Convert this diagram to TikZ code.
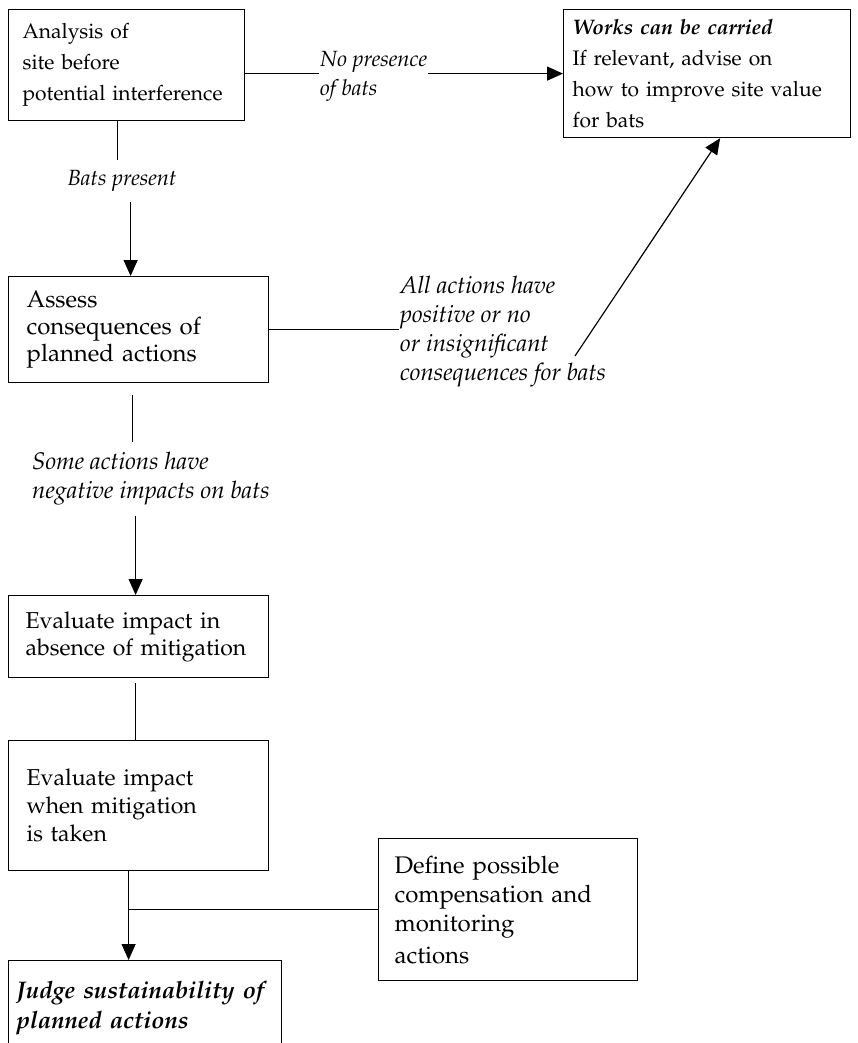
\documentclass[tikz,border=0pt]{standalone}
\usepackage[T1]{fontenc}
\usepackage{mathpazo}
\usepackage{tikz}
\usetikzlibrary{arrows.meta}
\hyphenpenalty=10000
\tikzset{c-box/.style={rectangle, anchor=north west, align=left, inner xsep=15pt, draw=black, line width=1.2pt, fill=white, font=\fontsize{21}{31}\selectfont},
c-label/.style={anchor=west, align=left, inner xsep=1pt, inner ysep=10pt, font=\fontsize{22}{29}\selectfont\itshape},
line/.style={line width=1.2pt},
arrow/.style={line width=1.2pt,-{Triangle[length=16pt,width=14pt]}}}

\begin{document}
\begin{tikzpicture}[x=1pt, y=-1pt]
\useasboundingbox (0,0) rectangle (857,1043);
\node (nAnalysis) [c-box, inner xsep=14pt, text width=208pt, minimum height=111pt] at (8,9) {Analysis of\\
site before\\
potential interference};
\node (nWorks) [c-box, inner xsep=9pt, text width=269pt, minimum height=128pt] at (563,9) {\textbf{\textit{Works can be carried}}\\
If relevant, advise on\\
how to improve site value\\
for bats};
\node (nAssess) [c-box, inner xsep=18pt, text width=224pt, minimum height=106pt, font=\fontsize{24}{27}\selectfont] at (8,276) {Assess\\
consequences of\\
planned actions};
\node (nAbsence) [c-box, inner xsep=17pt, text width=226pt, minimum height=82pt, font=\fontsize{23}{27}\selectfont] at (8,595) {Evaluate impact in\\
absence of mitigation};
\node (nWhen) [c-box, inner xsep=18pt, text width=224pt, minimum height=130pt, font=\fontsize{23}{28}\selectfont] at (8,740) {Evaluate impact\\
when mitigation\\
is taken};
\node (nJudge) [c-box, inner xsep=8pt, text width=257pt, minimum height=96pt, font=\fontsize{24}{30}\selectfont\bfseries\itshape] at (8,960) {Judge sustainability of\\
planned actions};
\node (nDefine) [c-box, inner xsep=16pt, text width=227pt, minimum height=142pt, font=\fontsize{24}{29}\selectfont] at (378,838) {Define possible\\
compensation and\\
monitoring\\[3pt]
actions};
\node (lblNoBats) [c-label] at (319,76) {No presence\\
of bats};
\node (lblBats) [c-label, anchor=center] at (122,181) {Bats present};
\node (lblAll) [c-label, font=\fontsize{24}{29}\selectfont\itshape] at (399,332) {All actions have\\
positive or no\\
or insignificant\\
consequences for bats};
\node (lblSome) [c-label, font=\fontsize{24}{29}\selectfont\itshape] at (31,479) {Some actions have\\
negative impacts on bats};
\coordinate (cAll) at (575,356);
\draw [line] (nAnalysis.east |- nWorks.west) -- (lblNoBats.west |- nWorks.west);
\draw [arrow] (lblNoBats.east |- nWorks.west) -- (nWorks.west);
\draw [line] ([xshift=-9pt]nAnalysis.south) -- ([xshift=-9pt]nAnalysis.south |- lblBats.north);
\draw [arrow] ([xshift=-8pt]nAssess.north |- lblBats.south) -- ([xshift=-8pt]nAssess.north);
\draw [line] (nAssess.east) -- (nAssess.east -| lblAll.west);
\draw [arrow] (cAll) -- ([xshift=13pt]nWorks.south);
\draw [line, shorten <=12pt] ([xshift=-6pt]nAssess.south) -- ([xshift=-6pt]nAssess.south |- lblSome.north);
\draw [arrow] ([xshift=-3pt]nAbsence.north |- lblSome.south) -- ([xshift=-3pt]nAbsence.north);
\draw [line, shorten <=5pt] ([xshift=-3pt]nAbsence.south) -- ([xshift=-3pt]nWhen.north);
\draw [arrow] ([xshift=-10pt]nWhen.south) -- ([xshift=-10pt]nWhen.south |- nJudge.north);
\draw [line] (nDefine.west) -- ([xshift=-10pt]nWhen.south |- nDefine.west);
\end{tikzpicture}
\end{document}
